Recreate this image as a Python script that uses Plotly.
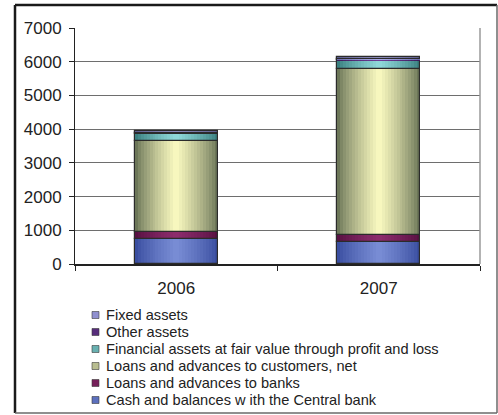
import numpy as np
import plotly.graph_objects as go

# Balance sheet assets by year
years = ["2006", "2007"]
series_names = [
    "Cash and balances w ith the Central bank",
    "Loans and advances to banks",
    "Loans and advances to customers, net",
    "Financial assets at fair value through profit and loss",
    "Other assets",
    "Fixed assets",
]
cash = [740, 650]
loans_banks = [200, 210]
loans_customers = [2710, 4935]
financial_assets = [210, 255]
other_assets = [30, 30]
fixed_assets = [60, 50]

series_values = [cash, loans_banks, loans_customers, financial_assets, other_assets, fixed_assets]

# edge colour, centre colour of the horizontal gradient for each series
edge_colors = [(58, 78, 160), (88, 16, 66), (108, 118, 88), (58, 128, 128), (58, 26, 90), (110, 110, 176)]
center_colors = [(120, 140, 212), (140, 44, 108), (247, 247, 190), (142, 216, 216), (110, 60, 150), (170, 170, 232)]

BAR_W = 0.41
N_LAYERS = 14

# figure geometry (pixels)
W, H = 498, 415
ML, MR, MT, MB = 75, 18, 28, 151
PW, PH = W - ML - MR, H - MT - MB


def px_x(x):
    return (x - ML) / PW


def px_y(y):
    return (H - MB - y) / PH


def rgb(c):
    return "rgb(%d,%d,%d)" % tuple(int(round(v)) for v in c)


def lerp(a, b, t):
    return tuple(a[i] + (b[i] - a[i]) * t for i in range(3))


fig = go.Figure()
bases = np.zeros(len(years))
for idx, (name, vals) in enumerate(zip(series_names, series_values)):
    vals = np.array(vals, dtype=float)
    e, c = edge_colors[idx], center_colors[idx]
    for k in range(N_LAYERS):
        t = (k / (N_LAYERS - 1)) ** 0.8
        w = BAR_W * (N_LAYERS - k) / N_LAYERS
        fig.add_trace(go.Bar(
            x=years, y=vals, base=bases, width=w,
            marker=dict(color=rgb(lerp(e, c, t)), line=dict(width=0)),
            name=name, legendgroup=name, showlegend=False,
            hovertemplate=name + "<br>%{x}: %{y}<extra></extra>" if k == 0 else None,
            hoverinfo=None if k == 0 else "skip",
        ))
    # segment outline
    fig.add_trace(go.Bar(
        x=years, y=vals, base=bases, width=BAR_W,
        marker=dict(color="rgba(0,0,0,0)", line=dict(color="#2b2b2b", width=1.2)),
        name=name, legendgroup=name, showlegend=False, hoverinfo="skip",
    ))
    bases = bases + vals

FONT = "Arial, Liberation Sans, sans-serif"

fig.update_layout(
    width=W, height=H,
    margin=dict(l=ML, r=MR, t=MT, b=MB, autoexpand=False),
    paper_bgcolor="white", plot_bgcolor="white",
    barmode="overlay",
    bargap=0,
    font=dict(family=FONT, color="#222222"),
    showlegend=False,
)

fig.update_yaxes(
    range=[0, 7000], dtick=1000, tickformat="d",
    showgrid=True, gridcolor="#6e6e6e", gridwidth=1,
    showline=True, linecolor="#222222", linewidth=1,
    ticks="outside", ticklen=5, tickcolor="#222222",
    tickfont=dict(family=FONT, size=17, color="#222222"),
    ticklabelstandoff=4,
    zeroline=False,
)
fig.update_xaxes(
    type="category",
    showline=True, linecolor="#222222", linewidth=1.5,
    ticks="outside", ticklen=5, tickcolor="#222222", tickson="boundaries",
    tickfont=dict(family=FONT, size=17, color="#222222"),
    ticklabelstandoff=8,
    showgrid=False,
)

# legend: keys and labels, top entry is the top of the stack
row0, row_step = 315, 17
for i, idx in enumerate(reversed(range(len(series_names)))):
    yc = row0 + i * row_step
    key = rgb(lerp(edge_colors[idx], center_colors[idx], 0.55))
    fig.add_shape(type="rect", xref="paper", yref="paper",
                  x0=px_x(92), x1=px_x(99), y0=px_y(yc - 3.5), y1=px_y(yc + 3.5),
                  fillcolor=key, line=dict(color="#3a3a3a", width=0.6))
    fig.add_annotation(x=px_x(104), y=px_y(yc), xref="paper", yref="paper",
                       text=series_names[idx], showarrow=False,
                       xanchor="left", yanchor="middle",
                       font=dict(family=FONT, size=14.6, color="#222222"))

# right edge of the plotting area
fig.add_shape(type="line", xref="paper", yref="paper", x0=1, x1=1, y0=0, y1=1,
              line=dict(color="#9a9a9a", width=1.5))

# outer chart frame
fx0, fx1 = px_x(15), px_x(497)
fy0, fy1 = px_y(413), px_y(5)
fig.add_shape(type="line", xref="paper", yref="paper", x0=fx0, x1=fx0, y0=fy0, y1=fy1,
              line=dict(color="#1a1a1a", width=2.5))
fig.add_shape(type="line", xref="paper", yref="paper", x0=fx0, x1=fx1, y0=fy1, y1=fy1,
              line=dict(color="#1a1a1a", width=2.5))
fig.add_shape(type="line", xref="paper", yref="paper", x0=fx1, x1=fx1, y0=fy0, y1=fy1,
              line=dict(color="#6a6a6a", width=1.5))
fig.add_shape(type="line", xref="paper", yref="paper", x0=fx0, x1=fx1, y0=fy0, y1=fy0,
              line=dict(color="#6a6a6a", width=1.5))

fig.write_html("out.html")
